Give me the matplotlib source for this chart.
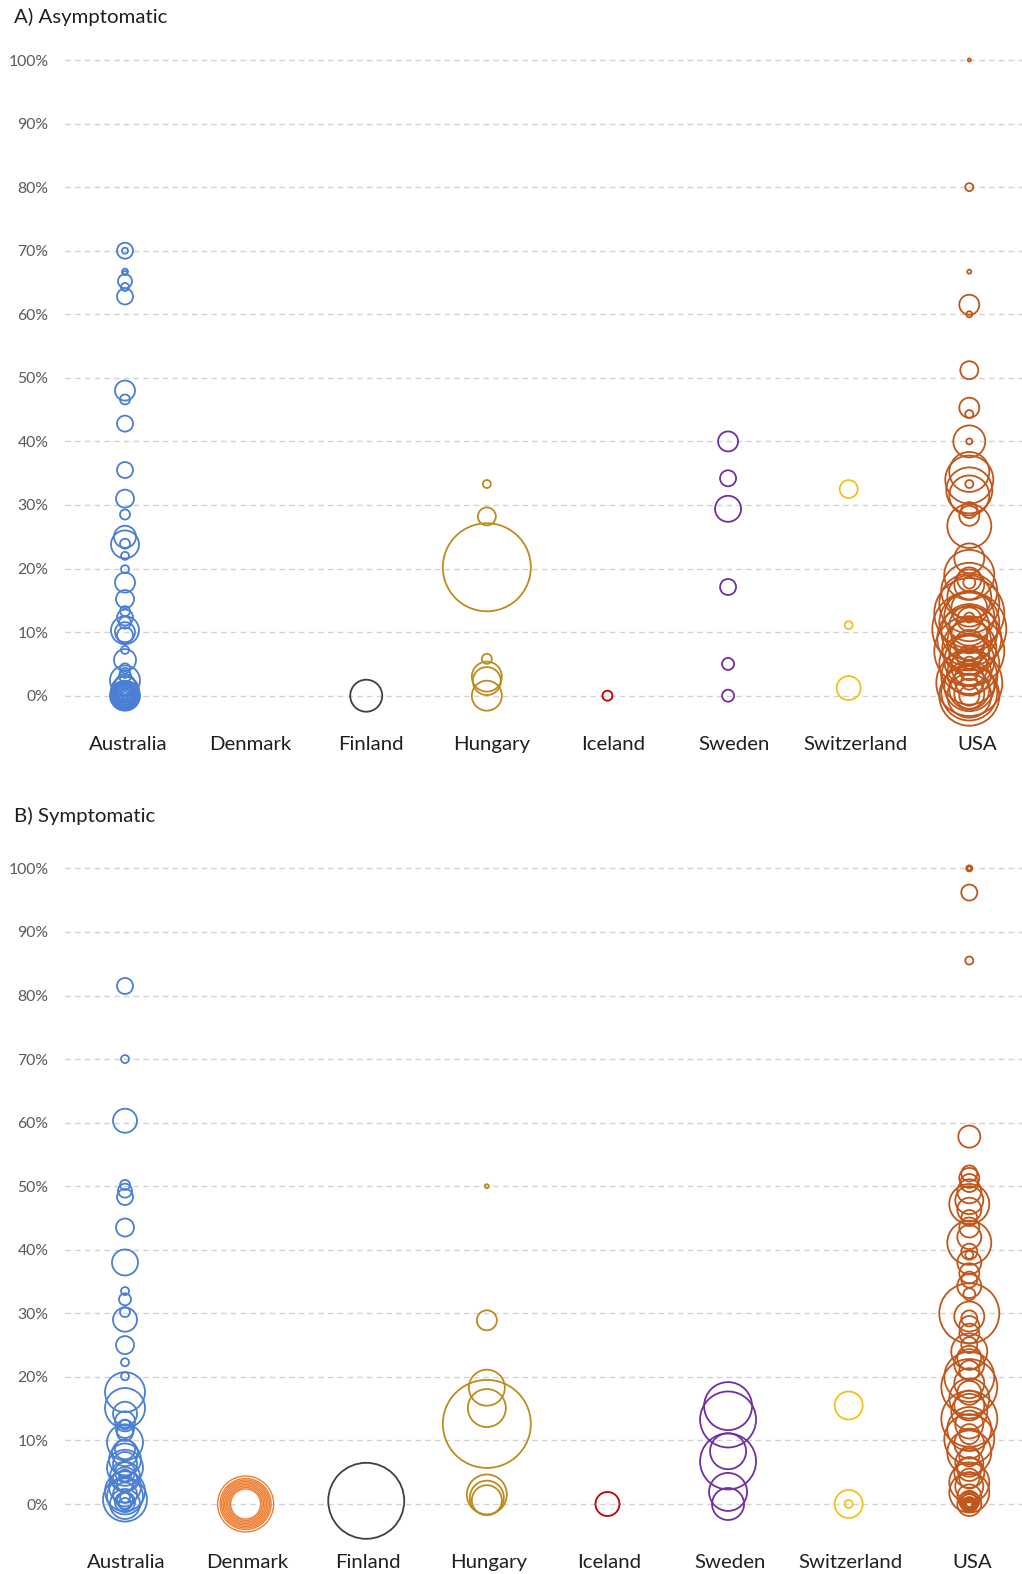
import numpy as np
import matplotlib.pyplot as plt
from matplotlib.ticker import FuncFormatter

plt.rcParams['font.family'] = ['Lato', 'DejaVu Sans']

COUNTRIES = ["Australia", "Denmark", "Finland", "Hungary", "Iceland",
             "Sweden", "Switzerland", "USA"]
COLORS = ["#4a7fd4", "#ed7d31", "#404040", "#bb8c1e", "#c00000",
          "#7030a0", "#f2c21b", "#c0561a"]
Y_TICKS = list(range(0, 101, 10))

# ---- A) Asymptomatic: percentage and sample size per study ----
AUS_A_PCT = [70, 70, 66.7, 66.5, 65.2, 64.3, 62.8, 48, 46.6, 42.8, 35.5, 31,
             28.5, 25, 23.8, 23.9, 22, 19.9, 17.8, 15.2, 13.3, 12.3, 11.5,
             10.3, 10, 9.5, 7.2, 5.6, 4.3, 3.6, 3.1, 2.4, 1.8, 1.2, 0.8, 0.5,
             0.3, 0, 0, 0, 0, 0.4, 1, 0, 0, 0, 0, 0, 0, 0.2, 0.6]
AUS_A_N = [256, 36, 36, 16, 196, 64, 256, 400, 100, 256, 256, 324, 100, 484,
           784, 100, 64, 64, 400, 324, 100, 256, 144, 784, 400, 256, 64, 484,
           100, 100, 144, 900, 400, 576, 784, 400, 256, 900, 576, 324, 144,
           100, 196, 784, 676, 484, 400, 196, 64, 676, 484]
DEN_A_PCT = []
DEN_A_N = []
FIN_A_PCT = [0]
FIN_A_N = [1024]
HUN_A_PCT = [33.3, 28.2, 20.2, 5.8, 3.0, 2.3, 0]
HUN_A_N = [64, 324, 7744, 100, 900, 784, 900]
ICE_A_PCT = [0]
ICE_A_N = [100]
SWE_A_PCT = [40, 34.2, 29.4, 17.1, 5, 0]
SWE_A_N = [400, 256, 676, 256, 144, 144]
SUI_A_PCT = [32.5, 11.1, 1.2]
SUI_A_N = [324, 64, 576]
USA_A_PCT = [100, 80, 66.7, 61.5, 60, 51.2, 45.3, 44.3, 40, 40, 35.2, 34,
             33.3, 32.3, 31.5, 29.2, 28.3, 26.7, 21.6, 19, 18.3, 17.5, 16.5,
             15.5, 14.5, 13.7, 13, 12.5, 12, 11.5, 11, 10.5, 10, 9.5, 9, 8.5,
             8, 7.5, 7, 6.5, 6, 5.5, 5, 4.5, 4, 3.5, 3, 2.5, 2, 1.5, 1, 0.5,
             0.3, 0, 0, 2.2, 5.2, 12.3, 17.8, 0]
USA_A_N = [9, 64, 16, 400, 36, 324, 400, 64, 1024, 36, 1600, 2304, 64, 2116,
           1600, 256, 400, 1936, 900, 2500, 576, 900, 3136, 1936, 3600, 1296,
           4900, 2500, 576, 3600, 1600, 5476, 3136, 1296, 4096, 1936, 900,
           2916, 4900, 1600, 576, 2500, 3600, 1296, 400, 1936, 3136, 900,
           4356, 2500, 1600, 3136, 900, 400, 1936, 256, 144, 100, 144, 3600]

# ---- B) Symptomatic ----
AUS_B_PCT = [81.5, 70, 60.3, 50.2, 49.3, 48.3, 43.5, 38, 33.5, 32.2, 30.2, 29,
             25, 22.3, 20.1, 17.6, 15.1, 14.2, 13, 11.8, 11.2, 9.7, 8.6, 8, 7,
             6.3, 5.7, 5, 4.3, 3.9, 3.2, 2.7, 2, 1.5, 1.2, 0.7, 0.3, 0, 0, 0.5,
             1, 4.5, 12.5]
AUS_B_N = [256, 64, 576, 100, 196, 256, 324, 676, 64, 144, 100, 576, 324, 64,
           64, 1600, 1600, 576, 400, 324, 256, 1296, 400, 676, 1024, 576,
           1296, 400, 900, 576, 256, 1024, 1600, 576, 1296, 1936, 400, 900,
           144, 256, 100, 144, 100]
DEN_B_PCT = [0, 0, 0, 0, 0, 0, 0, 0, 0]
DEN_B_N = [3136, 2601, 2304, 2025, 1764, 1521, 1296, 1089, 900]
FIN_B_PCT = [0.5]
FIN_B_N = [5776]
HUN_B_PCT = [50, 28.9, 18.3, 15.1, 12.6, 1.5, 1.0, 0.6]
HUN_B_N = [16, 400, 1296, 1444, 7744, 1600, 1156, 900]
ICE_B_PCT = [0]
ICE_B_N = [576]
SWE_B_PCT = [15.4, 13.3, 8.3, 6.7, 1.9, 0]
SWE_B_N = [2304, 3136, 1296, 3136, 1444, 1024]
SUI_B_PCT = [15.5, 0, 0]
SUI_B_N = [784, 784, 64]
USA_B_PCT = [100, 100, 96.2, 85.5, 57.8, 52, 51.3, 50.5, 49.2, 47.8, 47.2,
             46.3, 45, 43.5, 42, 41.1, 39.7, 39.2, 38, 36.3, 35.3, 34.3, 33,
             30, 29.5, 29.2, 28, 26.8, 25, 24, 23, 22, 21, 20, 19, 18.4, 17.5,
             16.6, 15.5, 14.5, 13.4, 12.5, 11.8, 11, 10.2, 9.5, 8.1, 7.5, 6.5,
             5.5, 4.9, 4, 3.4, 2.8, 1.8, 1.2, 0.5, 0.3, 0, 0, 0, 0, 0, 0.2,
             0.4, 0.1]
USA_B_N = [36, 16, 256, 64, 484, 256, 400, 324, 576, 784, 1600, 576, 256, 400,
           576, 1936, 256, 64, 576, 400, 256, 576, 144, 3600, 900, 256, 400,
           400, 256, 1296, 576, 900, 400, 2500, 900, 3136, 576, 1600, 900,
           1296, 3136, 784, 1936, 400, 2500, 900, 1936, 400, 784, 576, 900,
           400, 1600, 784, 1600, 576, 400, 256, 576, 144, 196, 100, 36, 324,
           256, 64]

PANEL_A = [(AUS_A_PCT, AUS_A_N), (DEN_A_PCT, DEN_A_N), (FIN_A_PCT, FIN_A_N),
           (HUN_A_PCT, HUN_A_N), (ICE_A_PCT, ICE_A_N), (SWE_A_PCT, SWE_A_N),
           (SUI_A_PCT, SUI_A_N), (USA_A_PCT, USA_A_N)]
PANEL_B = [(AUS_B_PCT, AUS_B_N), (DEN_B_PCT, DEN_B_N), (FIN_B_PCT, FIN_B_N),
           (HUN_B_PCT, HUN_B_N), (ICE_B_PCT, ICE_B_N), (SWE_B_PCT, SWE_B_N),
           (SUI_B_PCT, SUI_B_N), (USA_B_PCT, USA_B_N)]

W, H, DPI = 1022, 1574, 100
fig = plt.figure(figsize=(W / DPI, H / DPI), dpi=DPI)
fig.patch.set_facecolor("white")

YMIN, YMAX = -12, 102


def bubble_area(n):
    # bubble area proportional to sample size (radius in pixels = sqrt(n)/2)
    r_px = 0.5 * np.sqrt(np.asarray(n, dtype=float))
    d_pt = 2 * r_px * 72.0 / DPI
    return d_pt ** 2


def make_panel(y100_px, y0_px, title, title_y_px, label_base_px, data,
               label_shift=0.03, edge_lw=1.3):
    ppu = (y0_px - y100_px) / 100.0
    top_px = y100_px - (YMAX - 100) * ppu
    bottom_px = y0_px - YMIN * ppu
    left_px, right_px = 65, 1022
    ax = fig.add_axes([left_px / W, 1 - bottom_px / H,
                       (right_px - left_px) / W, (bottom_px - top_px) / H])
    ax.set_xlim(-0.4975, 7.437)
    ax.set_ylim(YMIN, YMAX)
    for sp in ax.spines.values():
        sp.set_visible(False)
    ax.set_xticks([])
    ax.set_yticks(Y_TICKS)
    ax.yaxis.set_major_formatter(FuncFormatter(lambda v, p: f"{v:.0f}%"))
    ax.tick_params(axis="y", length=0, pad=12, labelsize=11.3,
                   labelcolor="#595959")
    ax.grid(axis="y", color="#d2d2d2", linestyle=(0, (4, 3)), linewidth=1.0)
    ax.set_axisbelow(True)
    ax.patch.set_alpha(0)

    for i, ((pct, n), color) in enumerate(zip(data, COLORS)):
        if len(pct) == 0:
            continue
        lw = 1.0 if i == 1 else edge_lw
        ax.scatter(np.full(len(pct), i), pct, s=bubble_area(n),
                   facecolors="none", edgecolors=color, linewidths=lw,
                   clip_on=False, zorder=3)

    label_y = -(label_base_px - y0_px) / ppu
    for i, name in enumerate(COUNTRIES):
        ax.text(i + label_shift * (1 + i * 0.15), label_y, name,
                ha="center", va="baseline",
                fontsize=14.7, color="#1f1f1f", clip_on=False)

    fig.text(14 / W, 1 - title_y_px / H, title, ha="left", va="center",
             fontsize=14.7, color="#1f1f1f")
    return ax


make_panel(60, 695.7, "A) Asymptomatic", 17, 750, PANEL_A, label_shift=0.03)
make_panel(868.4, 1504, "B) Symptomatic", 816, 1568, PANEL_B,
           label_shift=0.01)

fig.savefig("out.png", dpi=DPI, facecolor="white")
